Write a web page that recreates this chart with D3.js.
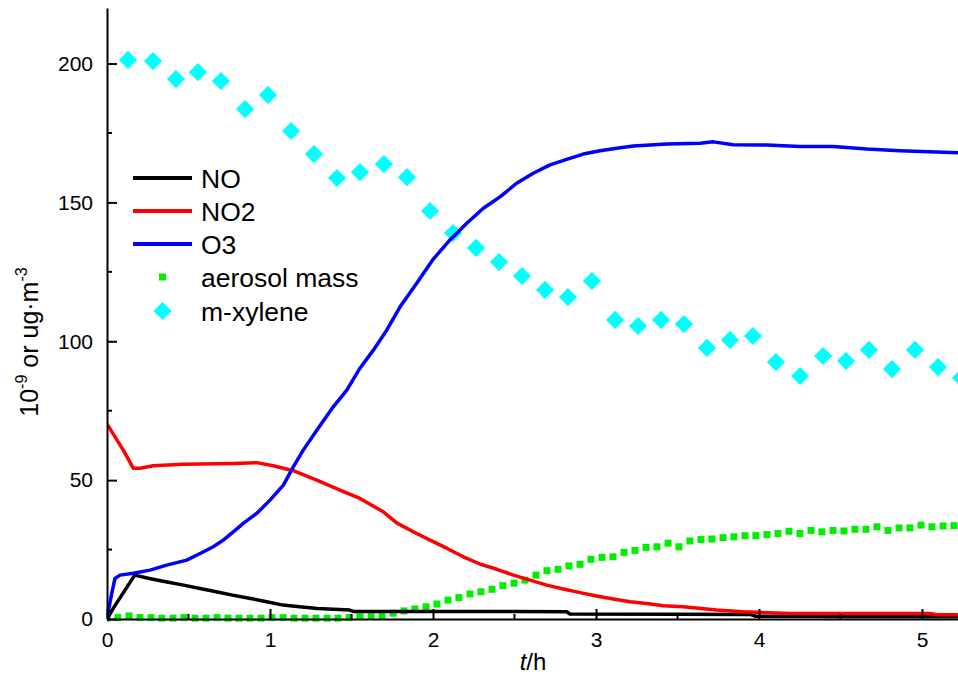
<!DOCTYPE html>
<html>
<head>
<meta charset="utf-8">
<script src="https://cdn.jsdelivr.net/npm/d3@7"></script>
<style>
  body { margin: 0; background: #fff; }
  svg { display: block; font-family: "Liberation Sans", Arial, sans-serif; }
</style>
</head>
<body>
<div id="chart"></div>
<script>
const width = 958;
const height = 675;

// NO (black line), t in hours
const noT = [0, 0.04, 0.17, 0.26, 0.36, 0.47, 0.57, 0.67, 0.77, 0.88, 0.98, 1.08, 1.18, 1.29, 1.39, 1.49, 1.51, 2.0, 2.5, 2.82, 2.84, 3.5, 3.95, 3.98, 4.5, 5.22];
const noV = [0, 4, 15.8, 14.6, 13.4, 12.2, 11.0, 9.8, 8.6, 7.4, 6.2, 5.0, 4.4, 3.8, 3.5, 3.2, 2.7, 2.7, 2.7, 2.6, 1.8, 1.7, 1.6, 1.0, 0.9, 0.8];

// NO2 (red line)
const no2T = [0, 0.049, 0.1, 0.161, 0.202, 0.284, 0.468, 0.775, 0.918, 1.02, 1.143, 1.287, 1.429, 1.552, 1.695, 1.777, 1.879, 1.982, 2.084, 2.186, 2.288, 2.391, 2.493, 2.595, 2.698, 2.8, 2.902, 3.004, 3.106, 3.209, 3.311, 3.413, 3.536, 3.74, 3.904, 4.19, 5.05, 5.09, 5.22];
const no2V = [70.2, 65.6, 60.8, 54.3, 54.3, 55.2, 55.7, 56.0, 56.3, 55.2, 53.4, 50.0, 46.4, 43.4, 38.6, 34.6, 31.4, 28.4, 25.5, 22.4, 19.8, 17.9, 15.8, 14.0, 12.2, 10.8, 9.5, 8.3, 7.2, 6.2, 5.6, 4.8, 4.4, 3.2, 2.6, 2.0, 2.0, 1.5, 1.5];

// O3 (blue line)
const o3T = [0, 0.029, 0.049, 0.08, 0.161, 0.264, 0.366, 0.489, 0.571, 0.652, 0.713, 0.775, 0.836, 0.918, 1.0, 1.082, 1.143, 1.204, 1.287, 1.388, 1.471, 1.552, 1.634, 1.716, 1.798, 1.9, 2.002, 2.104, 2.207, 2.309, 2.411, 2.513, 2.615, 2.718, 2.82, 2.922, 3.025, 3.127, 3.229, 3.434, 3.638, 3.72, 3.842, 4.047, 4.252, 4.456, 4.661, 4.865, 5.221];
const o3V = [0.3, 9.2, 14.6, 15.8, 16.5, 17.6, 19.4, 21.2, 23.6, 26.0, 28.4, 31.4, 34.4, 38.0, 42.8, 48.2, 54.8, 60.8, 68.0, 76.4, 82.4, 90.3, 96.8, 104.0, 112.4, 120.9, 129.6, 136.5, 142.5, 147.9, 152.0, 156.9, 160.5, 163.5, 165.5, 167.4, 168.6, 169.5, 170.3, 171.0, 171.3, 171.8, 170.8, 170.7, 170.1, 170.1, 169.2, 168.6, 167.9];

// aerosol mass (green squares), sampled every ~4 min
const aeroT = [0, 0.067, 0.135, 0.202, 0.27, 0.337, 0.405, 0.472, 0.54, 0.607, 0.675, 0.742, 0.81, 0.877, 0.945, 1.012, 1.08, 1.147, 1.215, 1.282, 1.35, 1.417, 1.485, 1.552, 1.62, 1.687, 1.755, 1.822, 1.889, 1.957, 2.024, 2.092, 2.159, 2.227, 2.294, 2.362, 2.429, 2.497, 2.564, 2.632, 2.699, 2.767, 2.834, 2.902, 2.969, 3.037, 3.104, 3.172, 3.239, 3.307, 3.374, 3.442, 3.509, 3.576, 3.644, 3.711, 3.779, 3.846, 3.914, 3.981, 4.049, 4.116, 4.184, 4.251, 4.319, 4.386, 4.454, 4.521, 4.589, 4.656, 4.724, 4.791, 4.859, 4.926, 4.994, 5.061, 5.129, 5.196];
const aeroV = [0.3, 0.5, 1.1, 0.5, 0.5, 0.3, 0.3, 0.5, 0.3, 0.3, 0.5, 0.3, 0.3, 0.3, 0.3, 0.5, 0.5, 0.3, 0.3, 0.3, 0.3, 0.3, 0.5, 0.8, 1.1, 1.2, 2.1, 2.9, 3.6, 4.4, 5.4, 6.8, 7.7, 9.0, 9.8, 10.7, 12.0, 12.9, 14.0, 15.8, 17.4, 17.9, 19.1, 19.7, 21.5, 22.2, 22.4, 24.0, 24.7, 25.8, 26.0, 27.3, 26.0, 28.1, 28.6, 28.8, 29.3, 29.6, 30.0, 30.0, 30.4, 30.8, 31.6, 30.8, 31.9, 31.4, 31.9, 31.7, 32.3, 32.3, 33.2, 31.9, 32.8, 32.8, 33.8, 33.2, 33.5, 33.6];

// m-xylene (cyan diamonds)
const xylT = [0.129, 0.282, 0.423, 0.558, 0.699, 0.847, 0.988, 1.129, 1.27, 1.411, 1.552, 1.699, 1.84, 1.982, 2.123, 2.264, 2.405, 2.546, 2.687, 2.828, 2.975, 3.117, 3.258, 3.399, 3.54, 3.681, 3.822, 3.963, 4.104, 4.252, 4.393, 4.534, 4.675, 4.816, 4.957, 5.098, 5.239];
const xylV = [201.3, 200.9, 194.4, 196.9, 193.7, 183.6, 188.7, 175.7, 167.4, 158.8, 160.9, 163.8, 159.1, 146.9, 139.0, 133.6, 128.5, 123.5, 118.5, 115.9, 121.7, 107.7, 105.5, 107.7, 106.2, 97.6, 100.5, 101.9, 92.5, 87.5, 94.7, 92.9, 96.9, 90.0, 96.9, 90.7, 86.8];

const xTicks = [0, 1, 2, 3, 4, 5];
const xMinor = [0.5, 1.5, 2.5, 3.5, 4.5];
const yTicks = [0, 50, 100, 150, 200];
const yMinor = [25, 75, 125, 175];

const zip = (ts, vs) => ts.map((t, i) => ({ t, v: vs[i] }));

const svg = d3.select('#chart').append('svg')
  .attr('width', width)
  .attr('height', height);

const plot = { left: 107, right: 958, top: 8, bottom: 619 };

const xScale = d3.scaleLinear().domain([0, 851 / 163]).range([plot.left, plot.right]);
const yScale = d3.scaleLinear().domain([0, 220]).range([plot.bottom, plot.top]);

svg.append('clipPath').attr('id', 'clip')
  .append('rect')
  .attr('x', plot.left).attr('y', 0)
  .attr('width', plot.right - plot.left).attr('height', plot.bottom + 6);

const g = svg.append('g').attr('clip-path', 'url(#clip)');

// m-xylene diamonds
const diamond = d3.symbol(d3.symbolSquare, 165);
g.append('g').selectAll('path')
  .data(zip(xylT, xylV))
  .join('path')
  .attr('d', diamond)
  .attr('transform', d => `translate(${xScale(d.t)},${yScale(d.v)}) rotate(45)`)
  .attr('fill', '#00ffff');

// aerosol squares
const sq = 7;
g.append('g').selectAll('rect')
  .data(zip(aeroT, aeroV))
  .join('rect')
  .attr('x', d => xScale(d.t) - sq / 2)
  .attr('y', d => yScale(d.v) - sq / 2)
  .attr('width', sq)
  .attr('height', sq)
  .attr('fill', '#00ee00');

const line = d3.line().x(d => xScale(d.t)).y(d => yScale(d.v));

const series = [
  { name: 'NO', color: '#000000', data: zip(noT, noV) },
  { name: 'NO2', color: '#ff0000', data: zip(no2T, no2V) },
  { name: 'O3', color: '#0000ff', data: zip(o3T, o3V) }
];

g.append('g').selectAll('path')
  .data(series)
  .join('path')
  .attr('d', d => line(d.data))
  .attr('fill', 'none')
  .attr('stroke', d => d.color)
  .attr('stroke-width', 3.5)
  .attr('stroke-linejoin', 'round');

// axes
const xAxis = svg.append('g')
  .attr('transform', `translate(0,${plot.bottom})`)
  .call(d3.axisBottom(xScale).tickValues(xTicks).tickSize(-10).tickSizeOuter(0).tickPadding(13).tickFormat(d3.format('d')));

svg.append('g').selectAll('line')
  .data(xMinor)
  .join('line')
  .attr('x1', d => xScale(d)).attr('x2', d => xScale(d))
  .attr('y1', plot.bottom).attr('y2', plot.bottom - 5)
  .attr('stroke', '#000').attr('stroke-width', 2);

const yAxis = svg.append('g')
  .attr('transform', `translate(${plot.left},0)`)
  .call(d3.axisLeft(yScale).tickValues(yTicks).tickSize(-10).tickSizeOuter(0).tickPadding(14));

svg.append('g').selectAll('line')
  .data(yMinor)
  .join('line')
  .attr('x1', plot.left).attr('x2', plot.left + 5)
  .attr('y1', d => yScale(d)).attr('y2', d => yScale(d))
  .attr('stroke', '#000').attr('stroke-width', 2);

[xAxis, yAxis].forEach(a => {
  a.select('.domain').attr('stroke-width', 2);
  a.selectAll('.tick line').attr('stroke-width', 2);
  a.selectAll('.tick text').attr('font-size', 21).attr('fill', '#000')
    .attr('font-family', '"Liberation Sans", Arial, sans-serif');
});

// axis titles
const xTitle = svg.append('text')
  .attr('x', 533).attr('y', 670)
  .attr('text-anchor', 'middle')
  .attr('font-size', 24);
xTitle.append('tspan').attr('font-style', 'italic').text('t');
xTitle.append('tspan').text('/h');

const yTitle = svg.append('text')
  .attr('transform', 'translate(38,342) rotate(-90)')
  .attr('text-anchor', 'middle')
  .attr('font-size', 25);
yTitle.append('tspan').text('10');
yTitle.append('tspan').attr('font-size', 16).attr('dy', -11).text('-9');
yTitle.append('tspan').attr('dy', 11).text(' or ug\u00b7m');
yTitle.append('tspan').attr('font-size', 16).attr('dy', -11).text('-3');

// legend
const legendY = [178, 211, 244, 277, 311];
const legend = svg.append('g');
series.forEach((s, i) => {
  legend.append('line')
    .attr('x1', 133).attr('x2', 192)
    .attr('y1', legendY[i]).attr('y2', legendY[i])
    .attr('stroke', s.color).attr('stroke-width', 4);
});
legend.append('rect')
  .attr('x', 162.5 - sq / 2).attr('y', legendY[3] - sq / 2)
  .attr('width', sq).attr('height', sq)
  .attr('fill', '#00ee00');
legend.append('path')
  .attr('d', diamond)
  .attr('transform', `translate(162.5,${legendY[4]}) rotate(45)`)
  .attr('fill', '#00ffff');

const legendNames = ['NO', 'NO2', 'O3', 'aerosol mass', 'm-xylene'];
legend.selectAll('text')
  .data(legendNames)
  .join('text')
  .attr('x', 201)
  .attr('y', (d, i) => legendY[i] + 9.5)
  .attr('font-size', 26.5)
  .text(d => d);
</script>
</body>
</html>
